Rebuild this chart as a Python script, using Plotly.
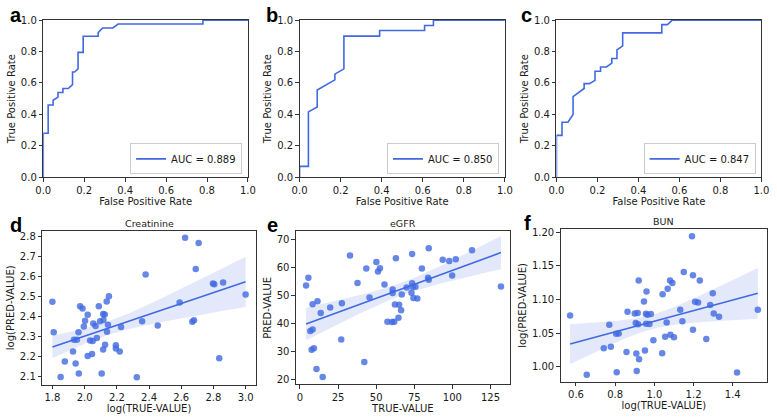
import numpy as np
import plotly.graph_objects as go

# ---------------- data ----------------
a_fpr = [0.0, 0.0, 0.024, 0.024, 0.048, 0.048, 0.072, 0.072, 0.096, 0.096, 0.122, 0.143, 0.143, 0.153,
         0.170, 0.170, 0.195, 0.195, 0.268, 0.268, 0.290, 0.340, 0.366, 0.780, 0.780, 1.0]
a_tpr = [0.0, 0.280, 0.280, 0.460, 0.460, 0.490, 0.510, 0.540, 0.540, 0.565, 0.565, 0.590, 0.670, 0.670,
         0.690, 0.795, 0.795, 0.897, 0.897, 0.920, 0.950, 0.950, 0.975, 0.975, 1.0, 1.0]
b_fpr = [0.0, 0.0, 0.043, 0.043, 0.086, 0.086, 0.172, 0.172, 0.216, 0.216, 0.390, 0.390, 0.609, 0.609,
         0.652, 0.652, 1.0]
b_tpr = [0.0, 0.070, 0.070, 0.416, 0.447, 0.555, 0.620, 0.656, 0.690, 0.898, 0.898, 0.934, 0.934, 0.966,
         0.966, 1.0, 1.0]
c_fpr = [0.0, 0.0, 0.027, 0.027, 0.056, 0.081, 0.081, 0.135, 0.135, 0.161, 0.188, 0.188, 0.215, 0.215,
         0.244, 0.270, 0.270, 0.295, 0.295, 0.323, 0.323, 0.514, 0.514, 0.541, 0.565, 1.0]
c_tpr = [0.0, 0.267, 0.267, 0.350, 0.350, 0.400, 0.513, 0.565, 0.596, 0.596, 0.617, 0.675, 0.675, 0.702,
         0.702, 0.727, 0.756, 0.756, 0.810, 0.836, 0.919, 0.919, 0.971, 0.971, 1.0, 1.0]
auc_labels = ["AUC = 0.889", "AUC = 0.850", "AUC = 0.847"]

creat_true = [1.800, 1.808, 1.851, 1.877, 1.928, 1.934, 1.944, 1.952, 1.962, 1.964, 1.972, 1.987, 1.995,
              2.003, 2.019, 2.019, 2.034, 2.046, 2.050, 2.054, 2.068, 2.076, 2.088, 2.096, 2.106, 2.115,
              2.115, 2.117, 2.125, 2.127, 2.137, 2.139, 2.145, 2.151, 2.194, 2.194, 2.218, 2.226, 2.324,
              2.357, 2.379, 2.454, 2.590, 2.624, 2.708, 2.669, 2.679, 2.690, 2.797, 2.805, 2.836, 2.860,
              3.000]
creat_pred = [2.474, 2.322, 2.098, 2.176, 2.226, 2.285, 2.166, 2.285, 2.322, 2.116, 2.452, 2.440, 2.351,
              2.379, 2.409, 2.204, 2.281, 2.213, 2.278, 2.366, 2.353, 2.293, 2.452, 2.377, 2.116, 2.413,
              2.236, 2.383, 2.411, 2.260, 2.476, 2.324, 2.359, 2.502, 2.257, 2.241, 2.226, 2.348, 2.097,
              2.377, 2.610, 2.356, 2.471, 2.794, 2.768, 2.374, 2.382, 2.638, 2.565, 2.562, 2.192, 2.570,
              2.510]

egfr_true = [4.05, 5.55, 6.83, 7.68, 8.32, 8.32, 9.17, 10.88, 11.52, 13.65, 14.93, 19.84, 27.09, 27.52,
             32.85, 37.76, 42.24, 43.52, 45.65, 50.13, 51.19, 52.47, 55.46, 57.38, 60.79, 60.79, 60.37,
             61.86, 62.29, 62.93, 64.63, 65.06, 66.34, 66.77, 69.97, 73.17, 73.59, 73.59, 74.02, 74.45,
             75.73, 77.00, 79.99, 84.04, 84.47, 84.47, 93.64, 97.91, 99.83, 102.18, 112.84, 131.83]
egfr_pred = [53.45, 56.25, 37.25, 30.49, 46.81, 37.72, 31.07, 23.61, 47.86, 43.66, 20.82, 45.64, 34.22,
             47.16, 64.17, 54.38, 26.18, 59.51, 49.14, 61.84, 58.46, 59.63, 53.80, 40.51, 52.05, 50.77,
             40.40, 40.51, 46.69, 63.24, 41.91, 46.57, 44.59, 50.30, 52.75, 50.89, 54.27, 64.76, 52.98,
             49.02, 52.98, 48.79, 59.51, 56.25, 55.55, 66.74, 62.66, 62.19, 57.06, 62.89, 66.04, 53.10]

bun_true = [0.570, 0.655, 0.742, 0.770, 0.778, 0.805, 0.808, 0.818, 0.858, 0.863, 0.900, 0.905, 0.908,
            0.910, 0.915, 0.917, 0.920, 0.922, 0.947, 0.952, 0.957, 0.958, 0.960, 0.965, 0.975, 0.982,
            0.995, 1.040, 1.042, 1.055, 1.063, 1.068, 1.080, 1.082, 1.092, 1.100, 1.132, 1.143, 1.150,
            1.197, 1.197, 1.192, 1.208, 1.223, 1.232, 1.265, 1.285, 1.298, 1.303, 1.330, 1.528, 1.422]
bun_pred = [1.0763, 0.9885, 1.0278, 1.0628, 1.0302, 1.0494, 0.9923, 1.0499, 1.0221, 1.0820, 1.0796,
            1.0652, 1.0201, 0.9942, 1.0801, 1.0633, 1.1285, 1.0115, 1.0974, 1.0245, 1.0791, 1.0643,
            1.1122, 1.0777, 1.0638, 1.0787, 1.0398, 1.0206, 1.1079, 1.0451, 1.0662, 1.1161, 1.1285,
            1.0480, 1.1247, 1.0441, 1.0849, 1.0681, 1.1410, 1.1362, 1.0552, 1.1942, 1.0969, 1.0959,
            1.1285, 1.0417, 1.0921, 1.1094, 1.0796, 1.0748, 1.0849, 0.9918]

panel_titles = ["Creatinine", "eGFR", "BUN"]
panel_letters = ["a", "b", "c", "d", "e", "f"]

# ---------------- styling ----------------
W, H = 777, 418
BLUE = "royalblue"
FONT = "DejaVu Sans"
TXT = "#1a1a1a"
FS = 10


def px_x(p):
    return p / W


def px_y(p):
    return 1 - p / H


def regfit(x, y, npts=100, z=1.96):
    """OLS fit with a heteroscedasticity-robust 95% band (close to seaborn's bootstrap band)."""
    x = np.asarray(x, float)
    y = np.asarray(y, float)
    X = np.column_stack([np.ones_like(x), x])
    XtX_inv = np.linalg.inv(X.T @ X)
    beta = XtX_inv @ X.T @ y
    e = y - X @ beta
    n = len(x)
    meat = X.T @ (X * (e ** 2)[:, None])
    V = XtX_inv @ meat @ XtX_inv * n / (n - 2)
    grid = np.linspace(x.min(), x.max(), npts)
    G = np.column_stack([np.ones_like(grid), grid])
    yhat = G @ beta
    se = np.sqrt(np.einsum("ij,jk,ik->i", G, V, G))
    return grid, yhat, yhat - z * se, yhat + z * se


fig = go.Figure()

# ROC panels
roc = [(a_fpr, a_tpr), (b_fpr, b_tpr), (c_fpr, c_tpr)]
for i, (fx, ty) in enumerate(roc):
    k = i + 1
    fig.add_trace(go.Scatter(
        x=fx, y=ty, mode="lines", line=dict(color=BLUE, width=1.6),
        name=auc_labels[i], xaxis=f"x{k if k > 1 else ''}", yaxis=f"y{k if k > 1 else ''}",
        legend="legend" if k == 1 else f"legend{k}", showlegend=True))

# regression panels
regs = [(creat_true, creat_pred), (egfr_true, egfr_pred), (bun_true, bun_pred)]
for i, (xt, yp) in enumerate(regs):
    k = i + 4
    xa, ya = f"x{k}", f"y{k}"
    g, yh, lo, hi = regfit(xt, yp)
    fig.add_trace(go.Scatter(x=g, y=hi, mode="lines", line=dict(width=0), hoverinfo="skip",
                             showlegend=False, xaxis=xa, yaxis=ya))
    fig.add_trace(go.Scatter(x=g, y=lo, mode="lines", line=dict(width=0), fill="tonexty",
                             fillcolor="rgba(65,105,225,0.15)", hoverinfo="skip",
                             showlegend=False, xaxis=xa, yaxis=ya))
    fig.add_trace(go.Scatter(x=xt, y=yp, mode="markers",
                             marker=dict(color=BLUE, size=6.5, opacity=0.8, line=dict(width=0)),
                             showlegend=False, xaxis=xa, yaxis=ya))
    fig.add_trace(go.Scatter(x=g, y=yh, mode="lines", line=dict(color=BLUE, width=1.6),
                             showlegend=False, xaxis=xa, yaxis=ya))

# axes geometry (pixels: left, right, top, bottom)
boxes = [
    (36, 245, 15.5, 177),
    (297.7, 507.3, 15.5, 177),
    (560, 769.3, 15.5, 177),
    (35, 253, 232, 390),
    (294, 512.3, 232.5, 389.5),
    (564.3, 775, 230, 387),
]
xranges = [[0, 1], [0, 1], [0, 1], [1.737, 3.063], [-2.6, 137.6], [0.522, 1.575]]
yranges = [[0, 1], [0, 1], [0, 1], [2.060, 2.828], [18.2, 72.8], [0.978, 1.205]]
xticks = [np.round(np.arange(0, 1.01, 0.2), 1)] * 3 + [
    np.round(np.arange(1.8, 3.01, 0.2), 1), np.arange(0, 126, 25), np.round(np.arange(0.6, 1.41, 0.2), 1)]
yticks = [np.round(np.arange(0, 1.01, 0.2), 1)] * 3 + [
    np.round(np.arange(2.1, 2.81, 0.1), 1), np.arange(20, 71, 10), np.round(np.arange(1.0, 1.201, 0.05), 2)]
xfmt = [".1f"] * 3 + [".1f", "d", ".1f"]
yfmt = [".1f"] * 3 + [".1f", "d", ".2f"]
xtitles = ["False Positive Rate"] * 3 + ["log(TRUE-VALUE)", "TRUE-VALUE", "log(TRUE-VALUE)"]
ytitles = ["True Positive Rate"] * 3 + ["log(PRED-VALUE)", "PRED-VALUE", "log(PRED-VALUE)"]

tickfont = dict(family=FONT, size=FS, color=TXT)
layout = dict(
    width=W, height=H, margin=dict(l=0, r=0, t=0, b=0),
    paper_bgcolor="white", plot_bgcolor="white",
    font=dict(family=FONT, size=FS, color=TXT),
)
for i in range(6):
    k = i + 1
    l, r, t, b = boxes[i]
    common = dict(showgrid=False, zeroline=False, showline=True, mirror=True, linecolor="#333333",
                  linewidth=1, ticks="outside", ticklen=3.5, tickwidth=0.8, tickcolor="#333333",
                  tickfont=tickfont)
    xa = dict(common, domain=[px_x(l), px_x(r)], range=xranges[i], tickvals=list(xticks[i]),
              tickformat=xfmt[i], anchor=f"y{k if k > 1 else ''}",
              title=dict(text=xtitles[i], font=dict(family=FONT, size=FS, color=TXT), standoff=1))
    ya = dict(common, domain=[px_y(b), px_y(t)], range=yranges[i], tickvals=list(yticks[i]),
              tickformat=yfmt[i], anchor=f"x{k if k > 1 else ''}",
              title=dict(text=ytitles[i], font=dict(family=FONT, size=FS, color=TXT), standoff=3))
    layout[f"xaxis{k if k > 1 else ''}"] = xa
    layout[f"yaxis{k if k > 1 else ''}"] = ya

# legends for the ROC panels
for i in range(3):
    l, r, t, b = boxes[i]
    key = "legend" if i == 0 else f"legend{i + 1}"
    layout[key] = dict(x=px_x(r - 6), y=px_y(b - 3), xanchor="right", yanchor="bottom",
                       bgcolor="white", bordercolor="#cccccc", borderwidth=1,
                       font=dict(family=FONT, size=FS, color=TXT), itemwidth=30,
                       tracegroupgap=0)

fig.update_layout(**layout)

# panel letters
letter_pos = [(0, 10), (261, 10), (522, 10), (0, 226), (262, 226), (525, 224)]
for s, (lx, ly) in zip(panel_letters, letter_pos):
    fig.add_annotation(text=f"<b>{s}</b>", x=px_x(lx), y=px_y(ly), xref="paper", yref="paper",
                       xanchor="left", yanchor="middle", showarrow=False,
                       font=dict(family="Liberation Sans", size=20, color="black"))

# titles of the regression panels
for i, ttl in enumerate(panel_titles):
    l, r, t, b = boxes[i + 3]
    fig.add_annotation(text=ttl, x=px_x((l + r) / 2), y=px_y(t - 8), xref="paper", yref="paper",
                       xanchor="center", yanchor="middle", showarrow=False,
                       font=dict(family=FONT, size=9.5, color=TXT))

fig.write_html("out.html")
